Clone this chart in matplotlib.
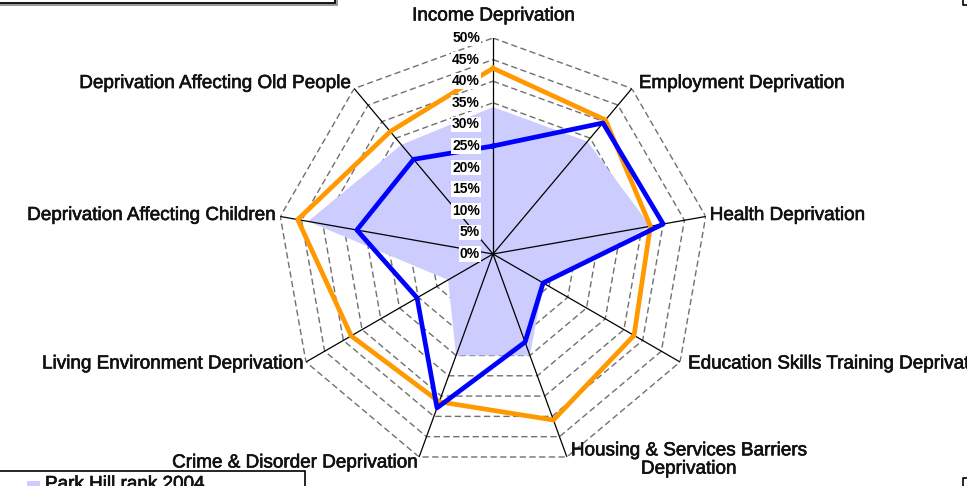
import numpy as np
import matplotlib
matplotlib.use('Agg')
import matplotlib.pyplot as plt
import matplotlib.patheffects as pe
from matplotlib.patches import Rectangle
from matplotlib.lines import Line2D

plt.rcParams['font.family'] = ['Liberation Sans', 'DejaVu Sans']
plt.rcParams['lines.scale_dashes'] = False

# ---------------------------------------------------------------------------
# Data (percent ranks)
# ---------------------------------------------------------------------------
categories = [
    'Income Deprivation',
    'Employment Deprivation',
    'Health Deprivation',
    'Education Skills Training Deprivation',
    'Housing & Services Barriers\nDeprivation',
    'Crime & Disorder Deprivation',
    'Living Environment Deprivation',
    'Deprivation Affecting Children',
    'Deprivation Affecting Old People',
]
park_hill_2004 = [34, 34, 37, 13.5, 25, 25, 12, 43.5, 33]
blue_series = [25, 39.6, 40, 13.4, 21.7, 37.9, 20.3, 32, 28.6]
orange_series = [43, 40.5, 37, 37.7, 40.9, 36.4, 37.9, 45.9, 37]
grid_levels = [0, 5, 10, 15, 20, 25, 30, 35, 40, 45, 50]

COLOR_FILL = '#CCCCFF'
COLOR_BLUE = '#0000FF'
COLOR_ORANGE = '#FF9900'

W, H = 967, 486
CX, CY, R = 493, 254, 216
LABEL_SIZE = 13.6
HEAVY = [pe.withStroke(linewidth=0.45, foreground='#111111')]

# label offsets in pixels from the spoke end, plus alignment
label_style = [
    (0, 22, 'center'),
    (7, 5, 'left'),
    (4, 1, 'left'),
    (8, -2, 'left'),
    (4, -3, 'left'),
    (-3, -6, 'right'),
    (-4, -2, 'right'),
    (-6, 1, 'right'),
    (-5, 5, 'right'),
]


def px(x, y):
    """Pixel position (top-left origin) to figure fraction."""
    return x / W, 1 - y / H


fig = plt.figure(figsize=(W / 100, H / 100), dpi=100)
ax = fig.add_axes([(CX - R) / W, (H - CY - R) / H, 2 * R / W, 2 * R / H],
                  projection='polar')
ax.set_theta_offset(np.pi / 2)
ax.set_theta_direction(-1)
ax.set_ylim(0, 50)
ax.set_xticks([])
ax.set_yticks([])
ax.grid(False)
ax.spines['polar'].set_visible(False)
ax.patch.set_alpha(0)

n = len(categories)
theta = np.linspace(0, 2 * np.pi, n, endpoint=False)
theta_closed = np.append(theta, theta[0])


def closed(vals):
    return np.append(vals, vals[0])


# dashed nonagon grid
for lev in grid_levels[1:]:
    ax.plot(theta_closed, [lev] * (n + 1), color='#707070', lw=1.0,
            linestyle=(0, (4.5, 2.5)), zorder=1)

# filled series
ax.fill(theta_closed, closed(park_hill_2004), color=COLOR_FILL, lw=0, zorder=2)

# spokes
for t in theta:
    ax.plot([t, t], [0, 50], color='black', lw=0.9, zorder=3)

ax.plot(theta_closed, closed(orange_series), color=COLOR_ORANGE, lw=3.4, zorder=4)
ax.plot(theta_closed, closed(blue_series), color=COLOR_BLUE, lw=3.4, zorder=5)

# radial tick labels
for lev in grid_levels:
    ax.annotate(f'{lev}%', xy=(0, lev), xytext=(-13, 0), textcoords='offset pixels',
                ha='right', va='center', fontsize=10, fontweight='bold', zorder=6,
                bbox=dict(boxstyle='square,pad=0.06', facecolor='white', edgecolor='none'))

# category labels
for t, name, (dx, dy, ha) in zip(theta, categories, label_style):
    ax.annotate(name, xy=(t, 50), xytext=(dx, dy), textcoords='offset pixels',
                ha=ha, va='center', fontsize=LABEL_SIZE, multialignment='center',
                linespacing=1.1, annotation_clip=False, zorder=6,
                color='#111111', path_effects=HEAVY)

# legend box (cut off at the bottom)
x0, y0 = px(-2, 600)
x1, y1 = px(305, 471)
fig.add_artist(Rectangle((x0, y0), x1 - x0, y1 - y0, transform=fig.transFigure,
                         facecolor='white', edgecolor='black', lw=1.2))
sx, sy = px(27, 493)
sx2, sy2 = px(40, 481)
fig.add_artist(Rectangle((sx, sy), sx2 - sx, sy2 - sy, transform=fig.transFigure,
                         facecolor=COLOR_FILL, edgecolor='none'))
tx, ty = px(45, 476)
fig.text(tx, ty, 'Park Hill rank 2004', ha='left', va='top', fontsize=LABEL_SIZE,
         color='#111111', path_effects=HEAVY)

# title box edge at the top left (cut off)
for off, col in [(1.5, '#909090'), (0, 'black')]:
    bx0, by0 = px(-5 + off, 3.5 + off)
    bx1, by1 = px(335 + off, -20)
    fig.add_artist(Rectangle((bx0, by0), bx1 - bx0, by1 - by0, transform=fig.transFigure,
                             facecolor='none', edgecolor=col, lw=1.3))

# frame corner marks on the right
for xs, ys in [([963, 963, 967], [0, 5, 5]), ([963, 963, 967], [486, 478, 478])]:
    fx = [x / W for x in xs]
    fy = [1 - y / H for y in ys]
    fig.add_artist(Line2D(fx, fy, transform=fig.transFigure, color='black', lw=1.2))

fig.savefig('out.png', dpi=100, facecolor='white')
